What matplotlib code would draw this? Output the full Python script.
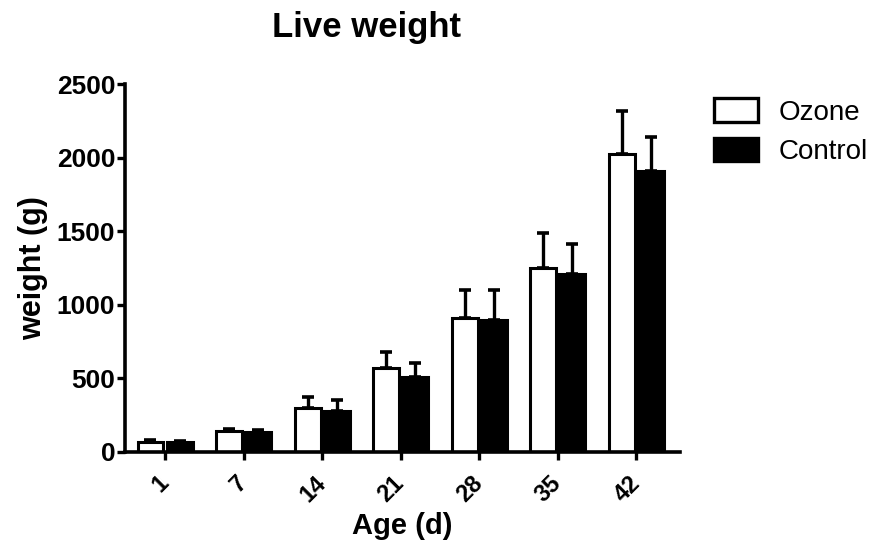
import numpy as np
import matplotlib
matplotlib.use('Agg')
import matplotlib.pyplot as plt
from matplotlib.patches import Patch

plt.rcParams['font.family'] = ['Liberation Sans', 'DejaVu Sans']

# data
ages = ['1', '7', '14', '21', '28', '35', '42']
ozone = [70, 140, 300, 570, 910, 1250, 2025]
ozone_sd = [8, 15, 70, 110, 190, 240, 295]
control = [65, 135, 280, 510, 895, 1210, 1910]
control_sd = [8, 12, 70, 95, 205, 205, 230]

x = np.arange(len(ages))
w = 0.33
off = 0.185

fig = plt.figure(figsize=(8.8, 5.53), dpi=100)
ax = fig.add_axes([0.142, 0.183, 0.631, 0.665])

ax.bar(x - off, ozone, width=w, color='white', edgecolor='black', linewidth=2.2, zorder=2)
ax.bar(x + off, control, width=w, color='black', edgecolor='black', linewidth=2.2, zorder=2)
# GraphPad style: only the upper half of the SD bar
ax.errorbar(x - off, ozone, yerr=[np.zeros(len(x)), ozone_sd], fmt='none', ecolor='black',
            elinewidth=2.4, capsize=4.5, capthick=2.6, zorder=1)
ax.errorbar(x + off, control, yerr=[np.zeros(len(x)), control_sd], fmt='none', ecolor='black',
            elinewidth=2.4, capsize=4.5, capthick=2.6, zorder=1)

ax.set_xlim(-0.51, 6.56)
ax.set_ylim(0, 2500)
ax.set_yticks([0, 500, 1000, 1500, 2000, 2500])
ax.set_xticks(x)
ax.set_xticklabels(ages, rotation=45, ha='right', va='center', rotation_mode='anchor')

for s in ['top', 'right']:
    ax.spines[s].set_visible(False)
for s in ['left', 'bottom']:
    ax.spines[s].set_linewidth(2.6)
ax.tick_params(axis='both', direction='out', length=6, width=2.4)
ax.tick_params(axis='y', labelsize=19, pad=1)
ax.tick_params(axis='x', labelsize=17, pad=14)
for lab in ax.get_xticklabels() + ax.get_yticklabels():
    lab.set_fontweight('bold')

ax.set_ylabel('weight (g)', fontsize=22, fontweight='bold', labelpad=6)
ax.set_xlabel('Age (d)', fontsize=21, fontweight='bold', labelpad=4)
fig.text(0.416, 0.933, 'Live weight', ha='center', va='baseline', fontsize=25, fontweight='bold')

handles = [Patch(facecolor='white', edgecolor='black', linewidth=2.4, label='Ozone'),
           Patch(facecolor='black', edgecolor='black', linewidth=2.4, label='Control')]
fig.legend(handles=handles, loc='upper left', bbox_to_anchor=(0.7986, 0.842), frameon=False,
           fontsize=20, handlelength=1.6, handleheight=0.9, handletextpad=0.72,
           labelspacing=0.45, borderaxespad=0)

fig.savefig('out.png', dpi=100)
